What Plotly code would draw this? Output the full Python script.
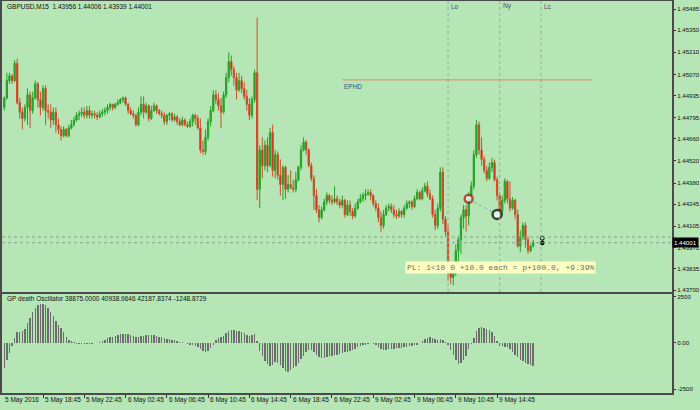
import plotly.graph_objects as go

title_main = "GBPUSD,M15\u00a0\u00a01.43956 1.44006 1.43939 1.44001"
title_osc = "GP death Oscillator 38875.0000 40938.9646 42187.8374 -1248.8729"

opens = [
    1.4486, 1.4492, 1.4503, 1.4506, 1.4503, 1.4514, 1.4489, 1.4483, 1.4479, 1.4486,
    1.4494, 1.4484, 1.4492, 1.4501, 1.4491, 1.4486, 1.4498, 1.4484, 1.4483, 1.4478,
    1.4483, 1.4475, 1.4472, 1.4468, 1.4472, 1.4468, 1.4473, 1.4475, 1.4478, 1.4481,
    1.4482, 1.4483, 1.4481, 1.4484, 1.4481, 1.4482, 1.4481, 1.4480, 1.4482, 1.4483,
    1.4484, 1.4486, 1.4488, 1.4486, 1.4488, 1.4489, 1.4491, 1.4492, 1.4488, 1.4484,
    1.4482, 1.4481, 1.4475, 1.4483, 1.4488, 1.4483, 1.4487, 1.4479, 1.4484, 1.4487,
    1.4484, 1.4482, 1.4481, 1.4477, 1.4481, 1.4482, 1.4478, 1.4480, 1.4477, 1.4475,
    1.4478, 1.4475, 1.4474, 1.4477, 1.4481, 1.4479, 1.4473, 1.4459, 1.4458, 1.4467,
    1.4477, 1.4484, 1.4494, 1.4491, 1.4487, 1.4483, 1.4494, 1.4505, 1.4515, 1.4510,
    1.4505, 1.4497, 1.4503, 1.4498, 1.4493, 1.4488, 1.4481, 1.4491, 1.4508, 1.4434,
    1.4459, 1.4449, 1.4462, 1.4449, 1.4470, 1.4446, 1.4456, 1.4443, 1.4437, 1.4448,
    1.4434, 1.4437, 1.4435, 1.4434, 1.4440, 1.4448, 1.4459, 1.4464, 1.4459, 1.4449,
    1.4441, 1.4430, 1.4421, 1.4416, 1.4421, 1.4426, 1.4430, 1.4427, 1.4426, 1.4428,
    1.4426, 1.4424, 1.4427, 1.4418, 1.4424, 1.4420, 1.4417, 1.4422, 1.4426, 1.4428,
    1.4430, 1.4431, 1.4432, 1.4430, 1.4425, 1.4422, 1.4416, 1.4411, 1.4418, 1.4422,
    1.4423, 1.4421, 1.4418, 1.4417, 1.4420, 1.4418, 1.4422, 1.4425, 1.4426, 1.4423,
    1.4428, 1.4432, 1.4428, 1.4433, 1.4436, 1.4431, 1.4428, 1.4418, 1.4411, 1.4422,
    1.4445, 1.4415, 1.4407, 1.4383, 1.4378, 1.4381, 1.4395, 1.4402, 1.4416, 1.4421,
    1.4417, 1.4430, 1.4436, 1.4456, 1.4475, 1.4459, 1.4453, 1.4446, 1.4441, 1.4448,
    1.4451, 1.4440, 1.4430, 1.4420, 1.4427, 1.4439, 1.4428, 1.4422, 1.4427, 1.4418,
    1.4398, 1.4404, 1.4411, 1.4402, 1.4395, 1.4398,
]
highs = [
    1.4493, 1.4508, 1.4508, 1.4507, 1.4516, 1.4517, 1.4492, 1.4486, 1.4488, 1.4498,
    1.4496, 1.4496, 1.4503, 1.4502, 1.4496, 1.4500, 1.4500, 1.4488, 1.4488, 1.4486,
    1.4486, 1.4479, 1.4474, 1.4474, 1.4473, 1.4475, 1.4478, 1.4480, 1.4483, 1.4484,
    1.4486, 1.4486, 1.4487, 1.4487, 1.4484, 1.4484, 1.4483, 1.4484, 1.4485, 1.4486,
    1.4488, 1.4489, 1.4488, 1.4489, 1.4491, 1.4492, 1.4493, 1.4493, 1.4489, 1.4486,
    1.4484, 1.4482, 1.4486, 1.4493, 1.4493, 1.4489, 1.4488, 1.4487, 1.4489, 1.4488,
    1.4485, 1.4484, 1.4483, 1.4482, 1.4483, 1.4483, 1.4482, 1.4481, 1.4479, 1.4480,
    1.4479, 1.4477, 1.4479, 1.4482, 1.4482, 1.4481, 1.4479, 1.4465, 1.4472, 1.4479,
    1.4487, 1.4497, 1.4497, 1.4495, 1.4492, 1.4496, 1.4508, 1.4521, 1.4519, 1.4512,
    1.4508, 1.4508, 1.4506, 1.4502, 1.4497, 1.4492, 1.4493, 1.4510, 1.4543, 1.4462,
    1.4467, 1.4465, 1.4467, 1.4473, 1.4475, 1.4459, 1.4458, 1.4453, 1.4449, 1.4449,
    1.4443, 1.4446, 1.4440, 1.4445, 1.4449, 1.4462, 1.4467, 1.4465, 1.4460, 1.4451,
    1.4443, 1.4434, 1.4424, 1.4423, 1.4428, 1.4432, 1.4431, 1.4430, 1.4436, 1.4430,
    1.4428, 1.4430, 1.4428, 1.4427, 1.4427, 1.4422, 1.4425, 1.4428, 1.4431, 1.4432,
    1.4434, 1.4434, 1.4434, 1.4431, 1.4427, 1.4425, 1.4420, 1.4421, 1.4424, 1.4425,
    1.4425, 1.4424, 1.4421, 1.4422, 1.4421, 1.4424, 1.4427, 1.4427, 1.4427, 1.4430,
    1.4434, 1.4433, 1.4435, 1.4438, 1.4439, 1.4434, 1.4430, 1.4421, 1.4425, 1.4448,
    1.4448, 1.4417, 1.4411, 1.4388, 1.4384, 1.4399, 1.4404, 1.4418, 1.4424, 1.4424,
    1.4432, 1.4439, 1.4459, 1.4478, 1.4477, 1.4467, 1.4455, 1.4449, 1.4451, 1.4454,
    1.4453, 1.4442, 1.4432, 1.4430, 1.4441, 1.4440, 1.4439, 1.4429, 1.4428, 1.4421,
    1.4408, 1.4413, 1.4413, 1.4404, 1.4399, 1.4402,
]
lows = [
    1.4484, 1.4491, 1.4501, 1.4501, 1.4502, 1.4488, 1.4479, 1.4472, 1.4477, 1.4475,
    1.4473, 1.4482, 1.4491, 1.4486, 1.4481, 1.4484, 1.4475, 1.4479, 1.4473, 1.4475,
    1.4470, 1.4469, 1.4465, 1.4467, 1.4467, 1.4467, 1.4472, 1.4474, 1.4477, 1.4478,
    1.4480, 1.4479, 1.4479, 1.4479, 1.4479, 1.4479, 1.4478, 1.4479, 1.4480, 1.4481,
    1.4482, 1.4484, 1.4484, 1.4485, 1.4487, 1.4488, 1.4489, 1.4487, 1.4482, 1.4481,
    1.4479, 1.4474, 1.4474, 1.4481, 1.4479, 1.4482, 1.4477, 1.4478, 1.4483, 1.4482,
    1.4481, 1.4479, 1.4475, 1.4475, 1.4478, 1.4477, 1.4477, 1.4475, 1.4474, 1.4474,
    1.4474, 1.4473, 1.4473, 1.4474, 1.4475, 1.4472, 1.4457, 1.4456, 1.4456, 1.4465,
    1.4474, 1.4483, 1.4488, 1.4484, 1.4473, 1.4482, 1.4492, 1.4502, 1.4506, 1.4500,
    1.4491, 1.4496, 1.4495, 1.4491, 1.4484, 1.4478, 1.4479, 1.4489, 1.4427, 1.4422,
    1.4441, 1.4446, 1.4445, 1.4448, 1.4442, 1.4441, 1.4440, 1.4430, 1.4427, 1.4428,
    1.4432, 1.4434, 1.4432, 1.4432, 1.4439, 1.4446, 1.4458, 1.4456, 1.4448, 1.4439,
    1.4421, 1.4419, 1.4413, 1.4415, 1.4420, 1.4424, 1.4425, 1.4424, 1.4425, 1.4424,
    1.4422, 1.4422, 1.4416, 1.4417, 1.4417, 1.4415, 1.4416, 1.4421, 1.4425, 1.4426,
    1.4427, 1.4430, 1.4427, 1.4423, 1.4420, 1.4413, 1.4407, 1.4409, 1.4417, 1.4420,
    1.4419, 1.4416, 1.4415, 1.4416, 1.4416, 1.4416, 1.4421, 1.4422, 1.4421, 1.4422,
    1.4427, 1.4427, 1.4427, 1.4432, 1.4429, 1.4427, 1.4416, 1.4408, 1.4409, 1.4420,
    1.4412, 1.4404, 1.4376, 1.4374, 1.4373, 1.4379, 1.4388, 1.4393, 1.4409, 1.4407,
    1.4411, 1.4427, 1.4434, 1.4454, 1.4456, 1.4449, 1.4444, 1.4439, 1.4440, 1.4445,
    1.4439, 1.4427, 1.4416, 1.4418, 1.4425, 1.4425, 1.4420, 1.4421, 1.4415, 1.4397,
    1.4394, 1.4402, 1.4397, 1.4393, 1.4394, 1.4397,
]
closes = [
    1.4492, 1.4503, 1.4506, 1.4503, 1.4514, 1.4489, 1.4483, 1.4479, 1.4486, 1.4494,
    1.4484, 1.4492, 1.4501, 1.4491, 1.4486, 1.4498, 1.4484, 1.4483, 1.4478, 1.4483,
    1.4475, 1.4472, 1.4468, 1.4472, 1.4468, 1.4473, 1.4475, 1.4478, 1.4481, 1.4482,
    1.4483, 1.4481, 1.4484, 1.4481, 1.4482, 1.4481, 1.4480, 1.4482, 1.4483, 1.4484,
    1.4486, 1.4488, 1.4486, 1.4488, 1.4489, 1.4491, 1.4492, 1.4488, 1.4484, 1.4482,
    1.4481, 1.4475, 1.4483, 1.4488, 1.4483, 1.4487, 1.4479, 1.4484, 1.4487, 1.4484,
    1.4482, 1.4481, 1.4477, 1.4481, 1.4482, 1.4478, 1.4480, 1.4477, 1.4475, 1.4478,
    1.4475, 1.4474, 1.4477, 1.4481, 1.4479, 1.4473, 1.4459, 1.4458, 1.4467, 1.4477,
    1.4484, 1.4494, 1.4491, 1.4487, 1.4483, 1.4494, 1.4505, 1.4515, 1.4510, 1.4505,
    1.4497, 1.4503, 1.4498, 1.4493, 1.4488, 1.4481, 1.4491, 1.4508, 1.4434, 1.4459,
    1.4449, 1.4462, 1.4449, 1.4470, 1.4446, 1.4456, 1.4443, 1.4437, 1.4448, 1.4434,
    1.4437, 1.4435, 1.4434, 1.4440, 1.4448, 1.4459, 1.4464, 1.4459, 1.4449, 1.4441,
    1.4430, 1.4421, 1.4416, 1.4421, 1.4426, 1.4430, 1.4427, 1.4426, 1.4428, 1.4426,
    1.4424, 1.4427, 1.4418, 1.4424, 1.4420, 1.4417, 1.4422, 1.4426, 1.4428, 1.4430,
    1.4431, 1.4432, 1.4430, 1.4425, 1.4422, 1.4416, 1.4411, 1.4418, 1.4422, 1.4423,
    1.4421, 1.4418, 1.4417, 1.4420, 1.4418, 1.4422, 1.4425, 1.4426, 1.4423, 1.4428,
    1.4432, 1.4428, 1.4433, 1.4436, 1.4431, 1.4428, 1.4418, 1.4411, 1.4422, 1.4445,
    1.4415, 1.4407, 1.4383, 1.4378, 1.4381, 1.4395, 1.4402, 1.4416, 1.4421, 1.4417,
    1.4430, 1.4436, 1.4456, 1.4475, 1.4459, 1.4453, 1.4446, 1.4441, 1.4448, 1.4451,
    1.4440, 1.4430, 1.4420, 1.4427, 1.4439, 1.4428, 1.4422, 1.4427, 1.4418, 1.4398,
    1.4404, 1.4411, 1.4402, 1.4395, 1.4398, 1.44001,
]
osc = [
    -1360, -905, -543, -145, 272, 579, 615, 634, 760, 1086,
    1358, 1665, 1900, 2045, 2100, 2118, 2063, 1900, 1700, 1450,
    1177, 995, 815, 579, 326, 181, 90, 36, -36, -54,
    -54, -54, -36, -36, -36, -18, 18, 54, 90, 181,
    253, 308, 344, 398, 434, 470, 507, 507, 470, 416,
    362, 308, 326, 362, 398, 416, 434, 434, 416, 380,
    344, 308, 272, 235, 199, 163, 145, 109, 72, 54,
    18, -54, -90, -127, -181, -235, -326, -416, -507, -453,
    -290, -90, 181, 253, 308, 398, 543, 652, 724, 688,
    670, 634, 579, 543, 453, 398, 434, 507, 90, -453,
    -724, -959, -1158, -1231, -1195, -1014, -1068, -1177, -1376, -1539,
    -1557, -1466, -1376, -1267, -1086, -869, -688, -507, -362, -380,
    -507, -652, -742, -796, -796, -742, -724, -688, -652, -634,
    -597, -543, -507, -471, -416, -362, -308, -235, -181, -127,
    -90, -54, -18, -36, -109, -217, -308, -362, -362, -326,
    -308, -308, -290, -272, -253, -235, -217, -181, -145, -109,
    -90, -18, 109, 217, 272, 308, 253, 217, 181, 217,
    181, 72, -109, -398, -670, -941, -1122, -1068, -905, -688,
    -330, -60, 250, 634, 833, 851, 815, 742, 688, 579,
    362, 90, -145, -181, -199, -235, -344, -507, -652, -778,
    -905, -996, -1086, -1122, -1195, -1249,
]
bar_index = list(range(len(closes)))

time_labels = ["5 May 2016", "5 May 18:45", "5 May 22:45", "6 May 02:45", "6 May 06:45",
               "6 May 10:45", "6 May 14:45", "6 May 18:45", "6 May 22:45", "9 May 02:45",
               "9 May 06:45", "9 May 10:45", "9 May 14:45"]
time_label_bars = [-0.6, 15, 31, 47, 63, 79, 95, 111, 127, 143, 159, 175, 191]

price_ticks = [1.45485, 1.45350, 1.45210, 1.45070, 1.44935, 1.44795, 1.44660,
               1.44520, 1.44380, 1.44245, 1.44105, 1.43970, 1.43835, 1.43700]
osc_ticks = [2500, 0, -2500]
osc_tick_text = ["2500", "0.00", "-2500"]

session_names = ["Lo", "Ny", "Lc"]
session_bars = [172, 192, 208]

ephd_label = "EPHD"
ephd_price = 1.45035
ephd_bars = [131, 228]

bid_price = 1.44001
ask_price = 1.44037

trade_bars = [180, 191]
trade_prices = [1.4428, 1.4418]
mark_bar = [208.5, 208.5]
mark_prices = [1.4403, 1.4400]

pl_text = "PL: 1<10 0 +10.0 each = p+100.0, +9.39%"
pl_bar = 155.4
pl_price = 1.43843

BG = "#b6e6b6"
FONT = "Liberation Sans"
FS = 6.5
FS_AX = 6.1

fig = go.Figure()
fig.add_trace(go.Candlestick(
    x=bar_index, open=opens, high=highs, low=lows, close=closes,
    increasing=dict(line=dict(color="#23a023", width=1), fillcolor="#2fae2f"),
    decreasing=dict(line=dict(color="#c8502a", width=1), fillcolor="#bc2616"),
    whiskerwidth=0, xaxis="x", yaxis="y", hoverinfo="skip", showlegend=False))
fig.add_trace(go.Bar(
    x=bar_index, y=osc, width=0.55, marker=dict(color="#6c6c6c", line=dict(width=0)),
    xaxis="x2", yaxis="y2", hoverinfo="skip", showlegend=False))
fig.add_trace(go.Scatter(
    x=trade_bars, y=trade_prices, mode="lines",
    line=dict(color="#8ea4c2", width=1, dash="dot"), xaxis="x", yaxis="y",
    hoverinfo="skip", showlegend=False))
fig.add_trace(go.Scatter(
    x=trade_bars, y=trade_prices, mode="markers",
    marker=dict(size=[8, 9], color="white",
                line=dict(color=["#a81818", "#000000"], width=2.5)),
    xaxis="x", yaxis="y", hoverinfo="skip", showlegend=False))
fig.add_trace(go.Scatter(
    x=mark_bar, y=mark_prices, mode="markers",
    marker=dict(size=4, symbol=["circle-open", "circle"], color="#000000",
                line=dict(color="#000000", width=1)),
    xaxis="x", yaxis="y", hoverinfo="skip", showlegend=False))

shapes = []
for b in session_bars:
    shapes.append(dict(type="line", xref="x", yref="y domain", x0=b, x1=b, y0=0, y1=1,
                       line=dict(color="#98a898", width=1, dash="dot")))
shapes.append(dict(type="line", xref="x", yref="y", x0=ephd_bars[0], x1=ephd_bars[1],
                   y0=ephd_price, y1=ephd_price, line=dict(color="#e0866a", width=1)))
for p in (ask_price, bid_price):
    shapes.append(dict(type="line", xref="x domain", yref="y", x0=0, x1=1, y0=p, y1=p,
                       line=dict(color="#8c9c8c", width=1, dash="dot")))

annotations = [
    dict(text=title_main, xref="paper", yref="paper", x=0.0045, y=0.9872,
         xanchor="left", yanchor="middle", showarrow=False,
         font=dict(family=FONT, size=FS, color="#101010")),
    dict(text=title_osc, xref="paper", yref="paper", x=0.0045, y=0.2398,
         xanchor="left", yanchor="middle", showarrow=False,
         font=dict(family=FONT, size=FS, color="#101010")),
    dict(text=ephd_label, xref="x", yref="y", x=ephd_bars[0], y=ephd_price,
         xanchor="left", yanchor="top", yshift=-1, showarrow=False,
         font=dict(family=FONT, size=FS, color="#25588a")),
    dict(text=pl_text, xref="x", yref="y", x=pl_bar, y=pl_price,
         xanchor="left", yanchor="middle", showarrow=False, bgcolor="#ffffc4",
         borderpad=1, font=dict(family="Liberation Mono", size=8, color="#707060")),
    dict(text="1.44001", xref="paper", yref="y", x=1, y=bid_price,
         xanchor="left", yanchor="middle", showarrow=False, bgcolor="#000000",
         borderpad=1, font=dict(family=FONT, size=FS_AX, color="#ffffff")),
]
for name, b in zip(session_names, session_bars):
    annotations.append(dict(text=name, xref="x", yref="paper", x=b, y=0.9872,
                            xanchor="left", yanchor="middle", xshift=1, showarrow=False,
                            font=dict(family=FONT, size=FS, color="#3c4c78")))
for lab, b in zip(time_labels, time_label_bars):
    annotations.append(dict(text=lab, xref="x", yref="paper", x=b, y=-0.0179,
                            xanchor="left", yanchor="middle", xshift=0, showarrow=False,
                            font=dict(family=FONT, size=FS, color="#101010")))

LINE = "#4a4a4a"
fig.update_layout(
    width=700, height=410,
    margin=dict(l=2, r=28, t=1, b=17, autoexpand=False),
    paper_bgcolor=BG, plot_bgcolor=BG,
    showlegend=False,
    bargap=0,
    xaxis=dict(domain=[0, 1], range=[-0.89, 258.8], anchor="y",
               showticklabels=False, showgrid=False, zeroline=False, ticks="",
               showline=True, linecolor=LINE, linewidth=2, mirror=True,
               rangeslider=dict(visible=False), fixedrange=True),
    yaxis=dict(domain=[0.2577, 1], range=[1.43688, 1.45536], side="right", anchor="x",
               tickvals=price_ticks, ticktext=[f"{v:.5f}" for v in price_ticks],
               ticks="outside", ticklen=2, tickcolor="#303030",
               tickfont=dict(family=FONT, size=FS_AX, color="#101010"),
               showgrid=False, zeroline=False, showline=True, linecolor=LINE,
               linewidth=2, mirror=True, automargin=False, fixedrange=True),
    xaxis2=dict(domain=[0, 1], matches="x", anchor="y2", showticklabels=False,
                tickvals=time_label_bars[1:], ticks="outside", ticklen=3, tickcolor="#303030",
                showgrid=False, zeroline=False, showline=True, linecolor=LINE,
                linewidth=2, mirror=True, fixedrange=True),
    yaxis2=dict(domain=[0, 0.2526], range=[-2717, 2663], side="right", anchor="x2",
                tickvals=osc_ticks, ticktext=osc_tick_text,
                ticks="outside", ticklen=2, tickcolor="#303030",
                tickfont=dict(family=FONT, size=FS_AX, color="#101010"),
                showgrid=False, zeroline=False, showline=True, linecolor=LINE,
                linewidth=2, mirror=True, automargin=False, fixedrange=True),
    shapes=shapes,
    annotations=annotations,
)

fig.write_html(
    "out.html",
    config={"displayModeBar": False, "staticPlot": True},
    post_script="document.body.style.margin='0';document.body.style.padding='0';",
)
